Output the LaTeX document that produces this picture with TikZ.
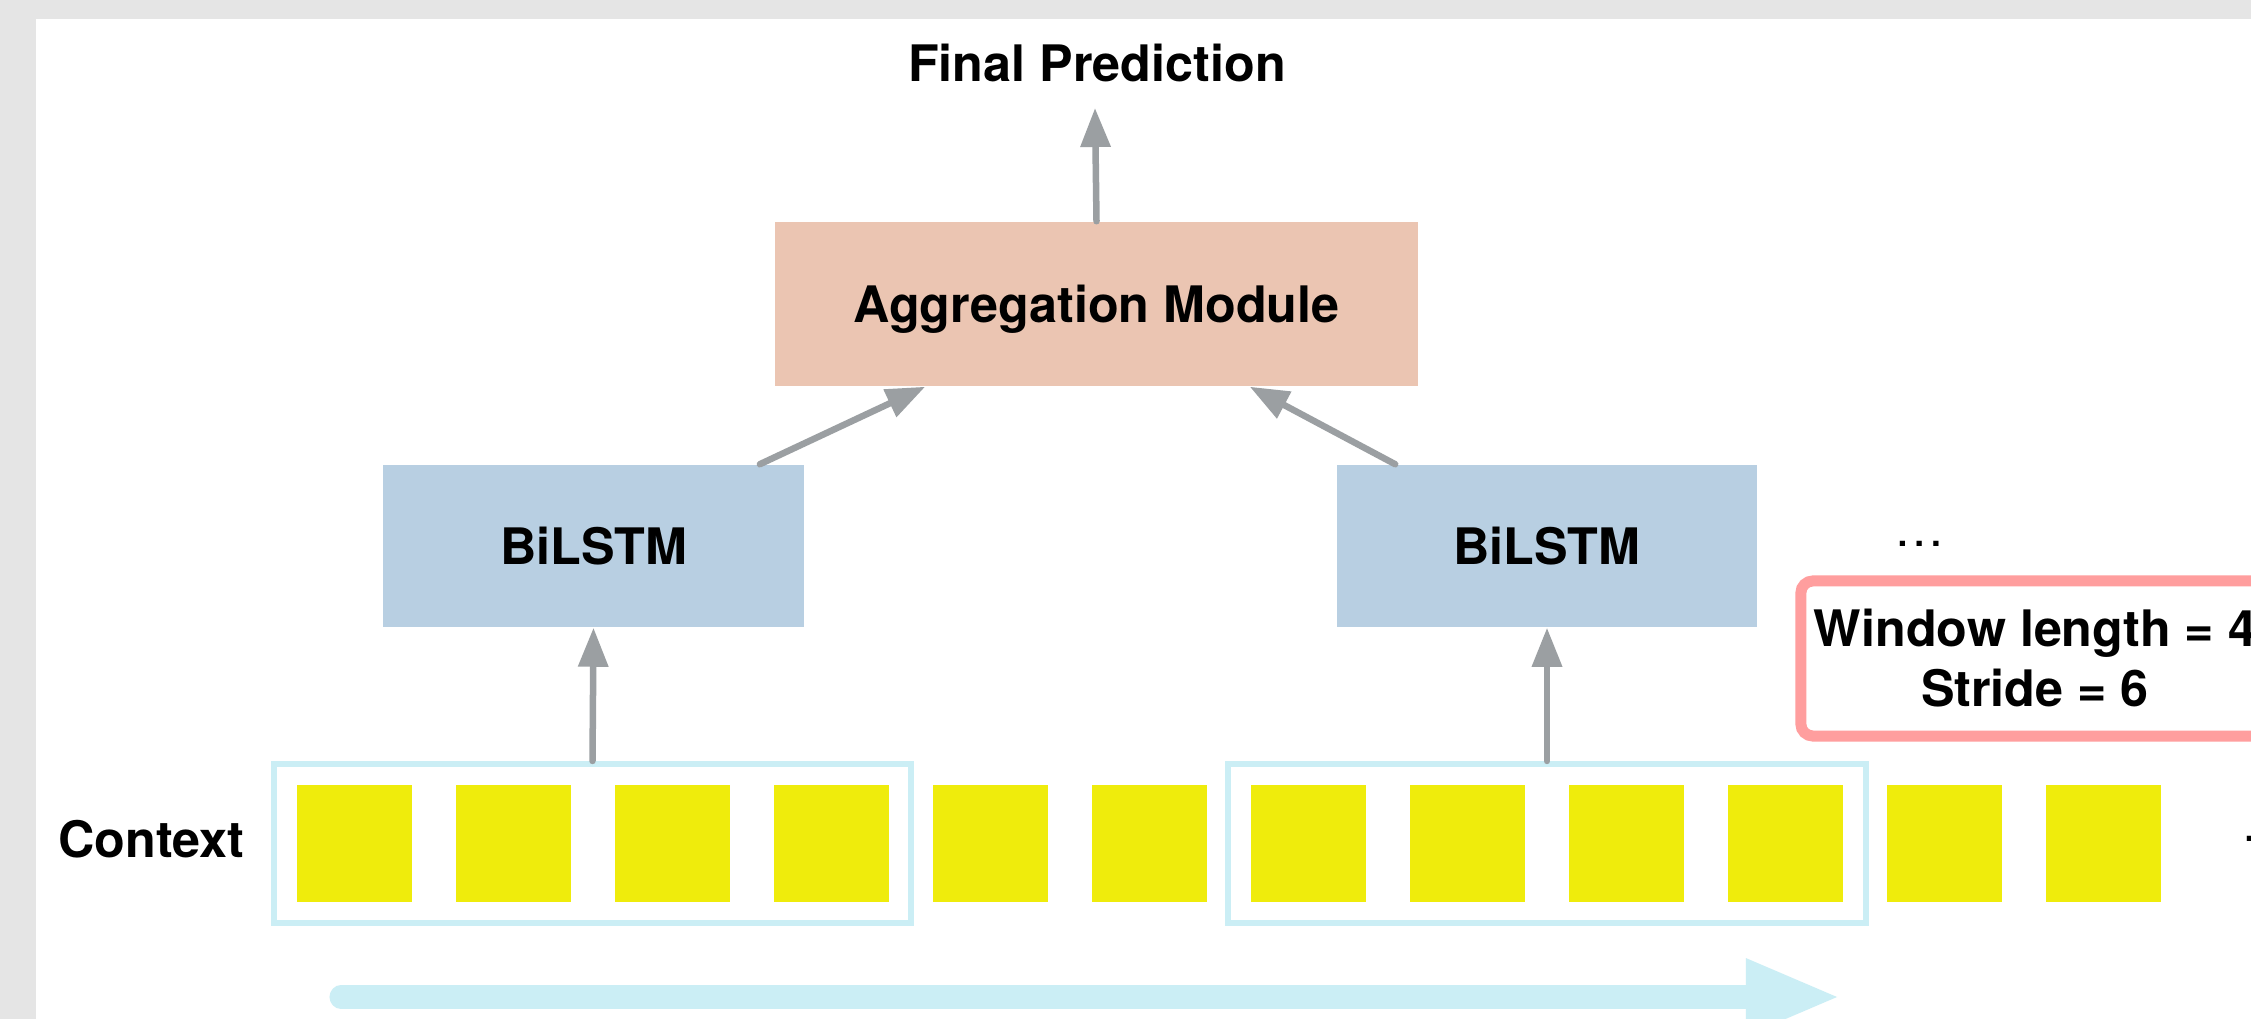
\documentclass[tikz,border=0pt]{standalone}
\usepackage{fontspec}
\setmainfont{TeX Gyre Heros}
\usepackage{tikz}
\usetikzlibrary{arrows.meta, calc, positioning}

\definecolor{bggray}{RGB}{229,229,229}
\definecolor{arrowgray}{RGB}{155,159,162}
\definecolor{aggpeach}{RGB}{235,197,178}
\definecolor{lstmblue}{RGB}{184,207,226}
\definecolor{tokenyellow}{RGB}{239,236,12}
\definecolor{windowcyan}{RGB}{203,238,245}
\definecolor{stridered}{RGB}{255,158,158}

\begin{document}
\begin{tikzpicture}[x=0.01cm,y=-0.01cm,
    every node/.style={font=\fontsize{14.3}{17.1}\selectfont\bfseries},
    module/.style={inner sep=0pt, text depth=0pt},
    token/.style={fill=tokenyellow, minimum width=1.15cm, minimum height=1.16cm, inner sep=0pt},
    window/.style={draw=windowcyan, line width=0.06cm, minimum width=6.37cm, minimum height=1.59cm, inner sep=0pt},
    feed/.style={draw=arrowgray, line width=0.065cm, line cap=round, -{Triangle[length=0.39cm,width=0.29cm]}}]

        % 1. Canvas
        \useasboundingbox (0,0) rectangle (2251,1019);
        \clip (0,0) rectangle (2251,1019);
        \fill[bggray] (0,0) rectangle (2251,1019);
        \fill[white] (36,19) rectangle (2251,1019);

        % 2. Context tokens
        \foreach \i in {0,...,11}
            \node[token] (tok\i) at (354.5+159*\i, 843.5) {};
        \node[anchor=base] (ctx) at (151.5, 857) {Context};
        \node[anchor=base west, inner sep=0pt, font=\fontsize{14.3}{17.1}\selectfont] (moretok) at (2241, 842) {…};

        % 3. Windows
        \node[window] (winA) at (592.5, 843.5) {};
        \node[window] (winB) at (1547, 843.5) {};

        % 4. BiLSTM blocks
        \node[module, fill=lstmblue, minimum width=4.21cm, minimum height=1.62cm] (lstmA) at (593.5, 546) {BiLSTM};
        \node[module, fill=lstmblue, minimum width=4.20cm, minimum height=1.62cm] (lstmB) at (1547, 546) {BiLSTM};
        \node[anchor=base, font=\fontsize{14.3}{17.1}\selectfont] (more) at (1920, 547) {…};

        % 5. Aggregation and output
        \node[module, fill=aggpeach, minimum width=6.43cm, minimum height=1.64cm] (agg) at (1096.5, 304) {Aggregation Module};
        \node[anchor=base] (pred) at (1097, 82) {Final Prediction};
        \coordinate (predtip) at (1095, 108);

        % 6. Arrows
        \draw[feed] (winA.north) -- (lstmA.south);
        \draw[feed] (winB.north) -- (lstmB.south);
        \draw[feed] ([xshift=-0.45cm]lstmA.north east) -- ([xshift=1.51cm]agg.south west);
        \draw[feed] ([xshift=0.59cm]lstmB.north west) -- ([xshift=-1.69cm]agg.south east);
        \draw[feed] (agg.north) -- (predtip);

        % 7. Window parameters
        \node[draw=stridered, line width=0.11cm, rounded corners=0.12cm, align=center, inner sep=0pt,
              minimum width=4.68cm, minimum height=1.55cm] (param) at (2035, 658.5) {Window length = 4\\Stride = 6};

        % 8. Sliding direction
        \coordinate (flowstart) at (341, 997);
        \coordinate (flowend) at (1841, 997);
        \draw[windowcyan, line width=0.23cm, line cap=round, -{Triangle[length=0.95cm,width=0.70cm]}] (flowstart) -- (flowend);
    \end{tikzpicture}
\end{document}
